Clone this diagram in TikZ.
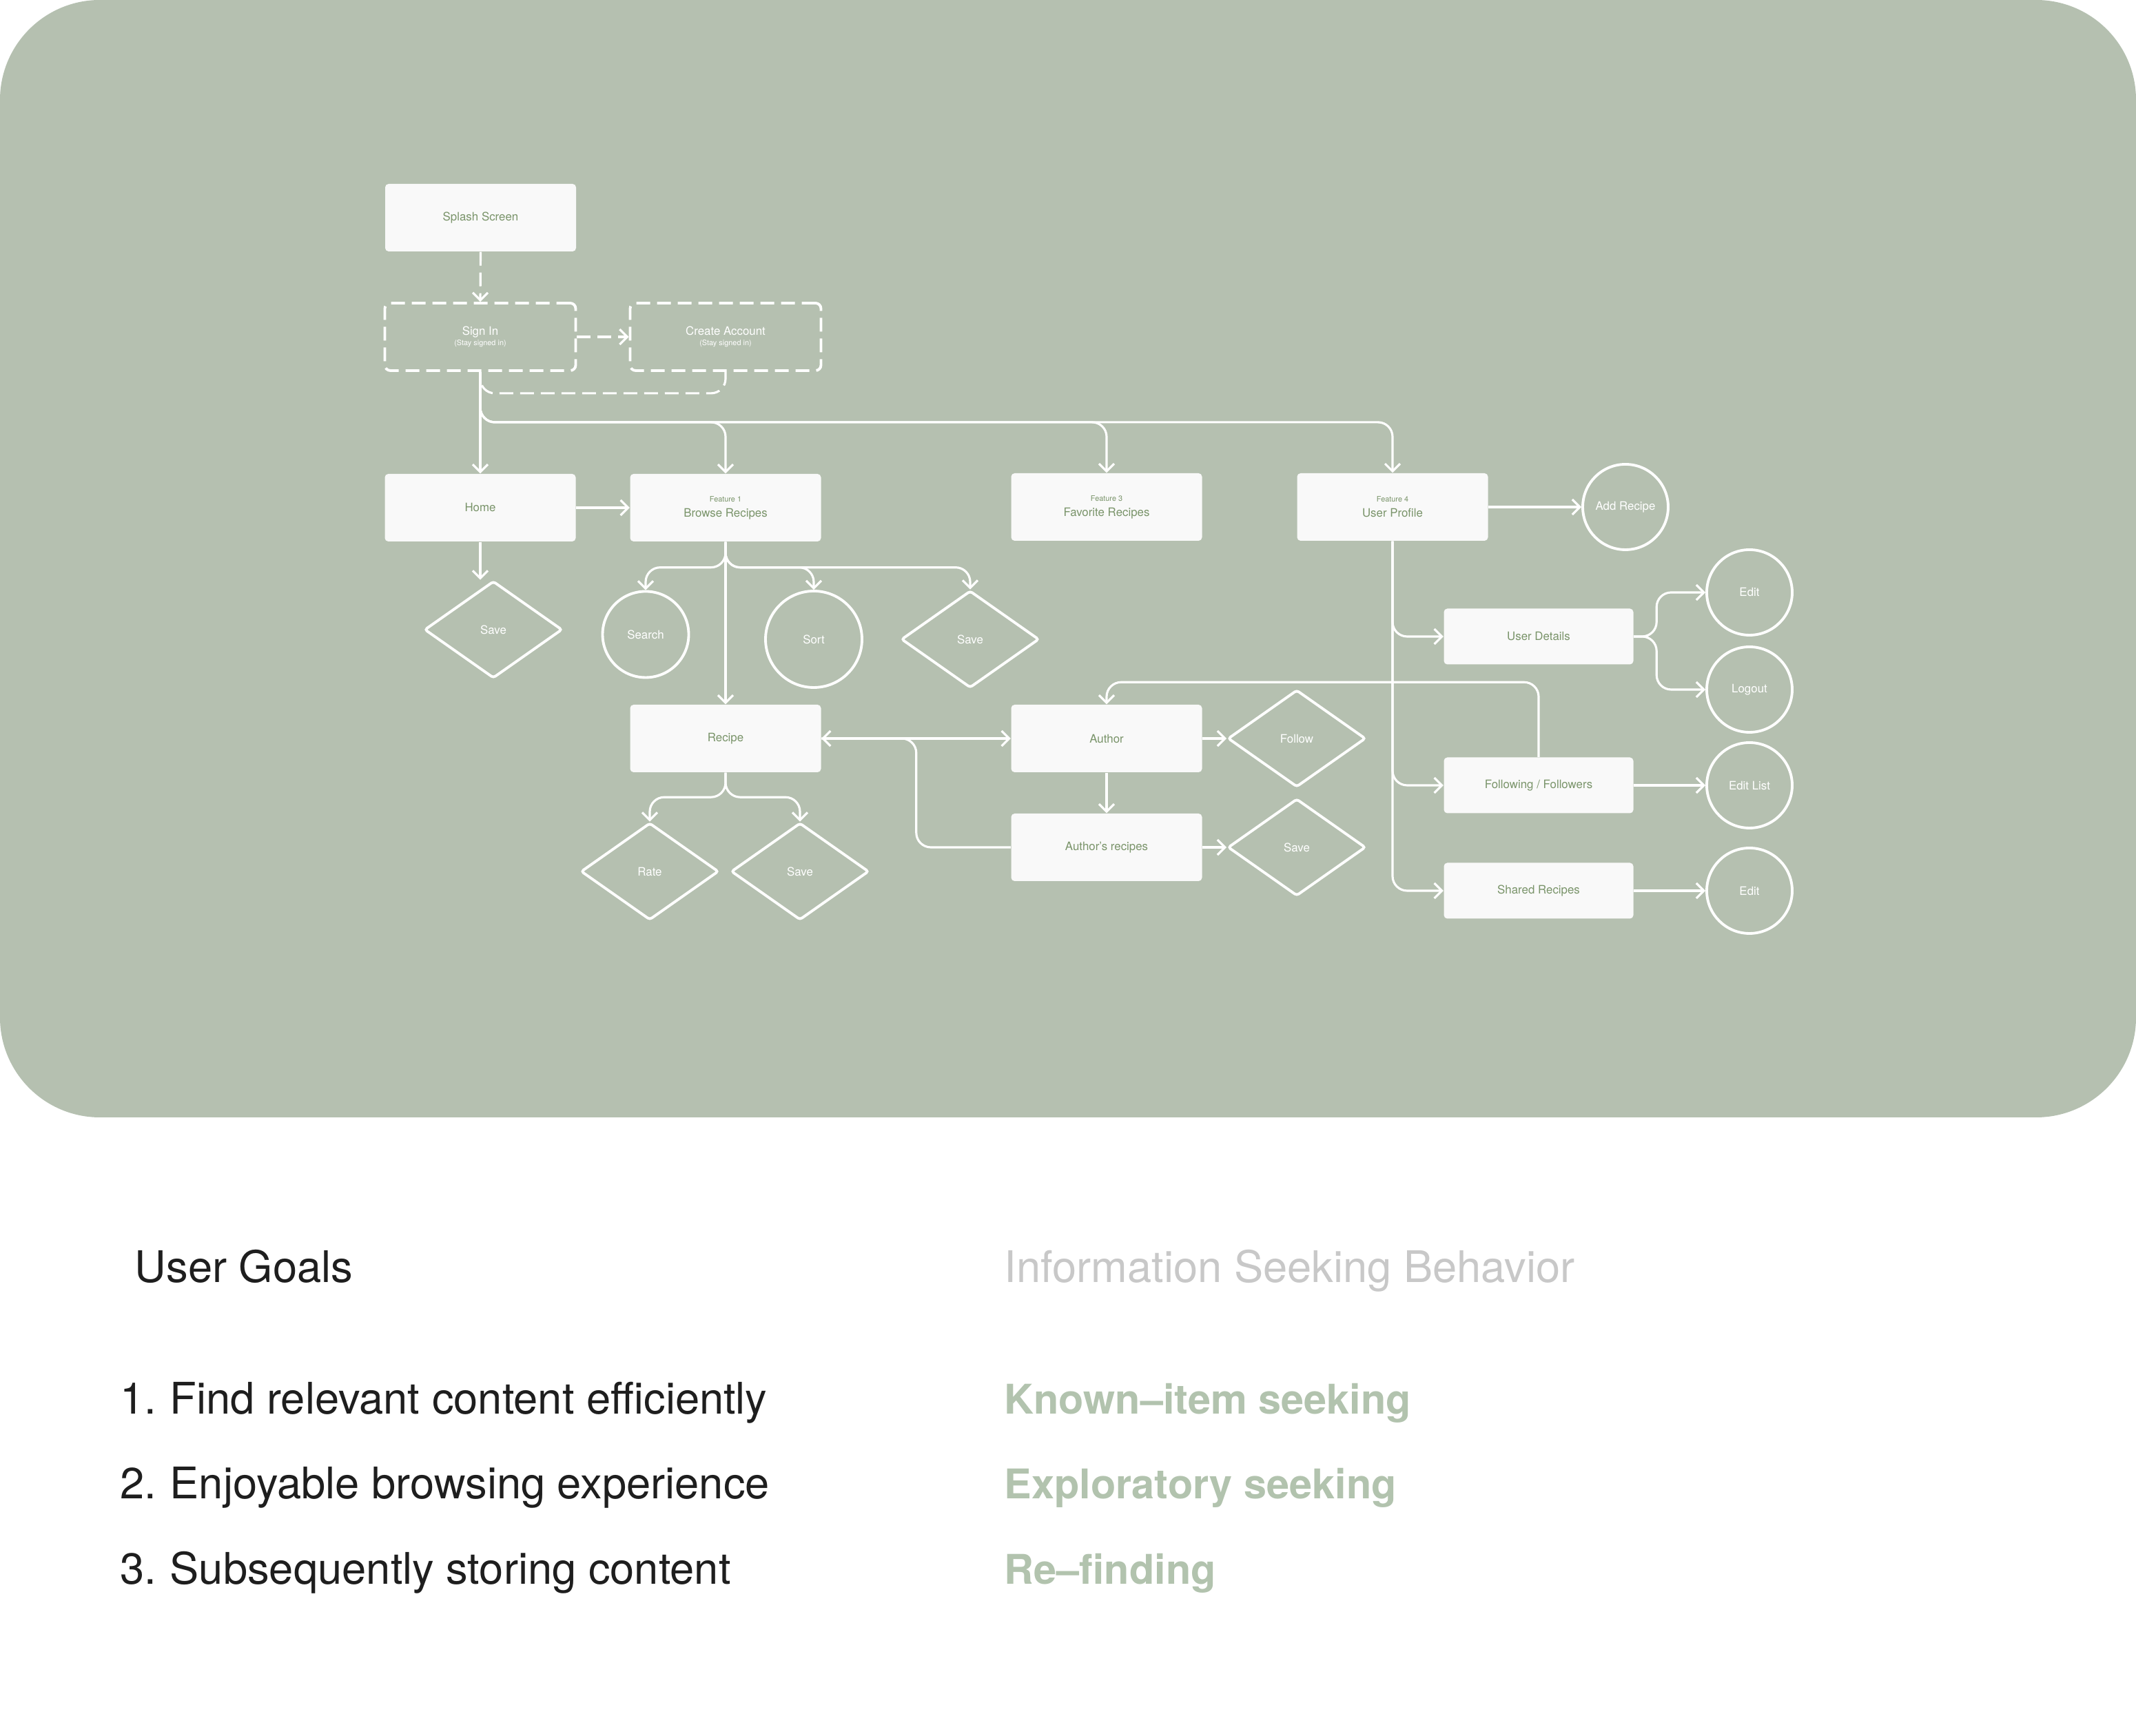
\documentclass[tikz,border=0pt]{standalone}
\usepackage{fontspec}
\setmainfont{TeX Gyre Heros}
\usetikzlibrary{shapes.geometric,arrows.meta,positioning,calc}

\definecolor{sage}{HTML}{B5C0B0}
\definecolor{boxfill}{HTML}{F9F9F9}
\definecolor{boxtext}{HTML}{7A946A}
\definecolor{goaltext}{HTML}{1E1E1E}
\definecolor{headgray}{HTML}{C8C8C8}
\definecolor{seektext}{HTML}{B2C3AE}

\newcommand{\lblfont}{\fontsize{4.8}{5.7}\selectfont}
\newcommand{\subfont}{\fontsize{3.1}{3.6}\selectfont}
\newcommand{\goalfont}{\fontsize{18}{21}\selectfont}
\newcommand{\seekfont}{\fontsize{16.9}{20}\selectfont\bfseries}

\tikzset{
  screenbox/.style={rectangle, rounded corners=0.05cm, fill=boxfill, inner sep=0pt,
    minimum width=2.77cm, minimum height=0.98cm, text=boxtext, font=\lblfont, align=center},
  smallbox/.style={screenbox, minimum width=2.75cm, minimum height=0.81cm},
  dashbox/.style={rectangle, rounded corners=0.08cm, draw=white, line width=1.1pt,
    dash pattern=on 2mm off 1mm, inner sep=0pt, minimum width=2.77cm, minimum height=0.98cm,
    text=white, font=\lblfont, align=center},
  actcircle/.style={circle, draw=white, line width=1.1pt, inner sep=0pt, minimum size=1.24cm,
    text=white, font=\lblfont},
  actdiamond/.style={diamond, draw=white, line width=1.1pt, rounded corners=1pt, inner sep=0pt,
    minimum width=2cm, minimum height=1.41cm, text=white, font=\lblfont},
  conn/.style={draw=white, line width=0.9pt, rounded corners=6pt, ->},
  dashconn/.style={conn, dash pattern=on 2mm off 1mm},
  goalline/.style={anchor=base west, inner sep=0pt, font=\goalfont, text=goaltext},
  seekline/.style={goalline, text=seektext, font=\seekfont},
}

\begin{document}
\begin{tikzpicture}[>={Straight Barb[length=1.1mm,width=2.2mm]}]
  \useasboundingbox (0,0) rectangle (31,25.2);
  \fill[white] (0,0) rectangle (31,25.2);
  \fill[sage, rounded corners=1.45cm] (0,8.98) rectangle (31,25.2);

  % screens
  \node[screenbox] (splash) at (6.975,22.04) {Splash Screen};
  \node[dashbox] (signin) at (6.97,20.31) {Sign In\\[-1.2pt]{\subfont (Stay signed in)}};
  \node[dashbox] (create) at (10.53,20.31) {Create Account\\[-1.2pt]{\subfont (Stay signed in)}};
  \node[screenbox] (home) at (6.97,17.83) {Home};
  \node[screenbox] (browse) at (10.53,17.83) {{\subfont Feature 1}\\[0.6pt]Browse Recipes};
  \node[screenbox] (fav) at (16.06,17.84) {{\subfont Feature 3}\\[0.6pt]Favorite Recipes};
  \node[screenbox] (profile) at (20.21,17.84) {{\subfont Feature 4}\\[0.6pt]User Profile};
  \node[actcircle] (addrec) at (23.59,17.84) {Add Recipe};

  \node[actdiamond] (homesave) at (7.16,16.06) {Save};
  \node[actcircle, minimum size=1.25cm] (search) at (9.37,15.99) {Search};
  \node[actcircle, minimum size=1.4cm] (sort) at (11.81,15.92) {Sort};
  \node[actdiamond] (browsesave) at (14.08,15.92) {Save};

  \node[screenbox] (recipe) at (10.53,14.48) {Recipe};
  \node[screenbox] (author) at (16.06,14.48) {Author};
  \node[actdiamond] (follow) at (18.82,14.48) {Follow};
  \node[screenbox] (authrec) at (16.06,12.90) {Author’s recipes};
  \node[actdiamond] (authsave) at (18.82,12.90) {Save};
  \node[actdiamond] (rate) at (9.43,12.55) {Rate};
  \node[actdiamond] (recipesave) at (11.61,12.55) {Save};

  \node[smallbox] (details) at (22.33,15.96) {User Details};
  \node[actcircle] (editA) at (25.39,16.60) {Edit};
  \node[actcircle] (logout) at (25.39,15.19) {Logout};
  \node[smallbox] (follows) at (22.33,13.80) {Following / Followers};
  \node[actcircle] (editlist) at (25.39,13.80) {Edit List};
  \node[smallbox] (shared) at (22.33,12.27) {Shared Recipes};
  \node[actcircle] (editB) at (25.39,12.27) {Edit};

  % sign in flow
  \draw[dashconn] (splash.south) -- (signin.north);
  \draw[dashconn] (signin.east) -- (create.west);
  \draw[dashconn, -] (create.south) -- ++(0,-0.31) -| (signin.south);
  \draw[conn] (signin.south) -- (home.north);
  \draw[conn] (signin.south) -- ++(0,-0.73) -| (browse.north);
  \draw[conn] (signin.south) -- ++(0,-0.73) -| (fav.north);
  \draw[conn] (signin.south) -- ++(0,-0.73) -| (profile.north);

  % home and browse
  \draw[conn] (home.east) -- (browse.west);
  \draw[conn] (home.south) -- (home.south |- homesave.north);
  \draw[conn] (browse.south) -- (recipe.north);
  \draw[conn] (browse.south) -- ++(0,-0.37) -| (search.north);
  \draw[conn] (browse.south) -- ++(0,-0.37) -| (sort.north);
  \draw[conn] (browse.south) -- ++(0,-0.37) -| (browsesave.north);

  % recipe and author
  \draw[conn, <->] (recipe.east) -- (author.west);
  \draw[conn, -] (authrec.west) -- ++(-1.37,0) |- (recipe.east);
  \draw[conn] (recipe.south) -- ++(0,-0.355) -| (rate.north);
  \draw[conn] (recipe.south) -- ++(0,-0.355) -| (recipesave.north);
  \draw[conn] (author.east) -- (follow.west);
  \draw[conn] (author.south) -- (authrec.north);
  \draw[conn] (authrec.east) -- (authsave.west);

  % user profile
  \draw[conn] (profile.east) -- (addrec.west);
  \draw[conn] (profile.south) |- (details.west);
  \draw[conn] (profile.south) |- (follows.west);
  \draw[conn] (profile.south) |- (shared.west);
  \draw[conn] (details.east) -- ++(0.33,0) |- (editA.west);
  \draw[conn] (details.east) -- ++(0.33,0) |- (logout.west);
  \draw[conn] (follows.east) -- (editlist.west);
  \draw[conn] (shared.east) -- (editB.west);
  \draw[conn] (follows.north) -- ++(0,1.085) -| (author.north);

  % goals and behaviour
  \node[goalline] (goals) at (1.95,6.58) {User Goals};
  \node[goalline, text=headgray] (seekhead) at (14.57,6.58) {Information Seeking Behavior};

  \node[goalline, anchor=base east] (num1) at (2.28,4.67) {1.};
  \node[goalline] (goal1) at (2.46,4.67) {Find relevant content efficiently};
  \node[goalline, anchor=base east] (num2) at (2.28,3.44) {2.};
  \node[goalline] (goal2) at (2.46,3.44) {Enjoyable browsing experience};
  \node[goalline, anchor=base east] (num3) at (2.28,2.20) {3.};
  \node[goalline] (goal3) at (2.46,2.20) {Subsequently storing content};

  \node[seekline] (seek1) at (14.57,4.67) {Known–item seeking};
  \node[seekline] (seek2) at (14.57,3.44) {Exploratory seeking};
  \node[seekline] (seek3) at (14.57,2.20) {Re–finding};
\end{tikzpicture}
\end{document}
